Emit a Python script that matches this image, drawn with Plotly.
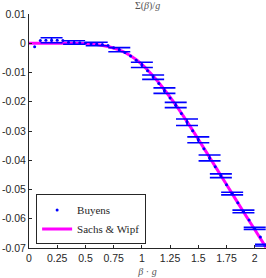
import plotly.graph_objects as go

# Sachs & Wipf curve
sw_x = [0.0, 0.1, 0.2, 0.3, 0.4, 0.5, 0.6, 0.7, 0.8, 0.9, 1.0, 1.1, 1.2, 1.3, 1.4,
        1.5, 1.6, 1.7, 1.8, 1.9, 2.0, 2.1]
sw_y = [0.0, 0.0, 0.0, 0.0, 0.0, -0.0001, -0.0004, -0.0011, -0.0023, -0.0043, -0.0072,
        -0.0112, -0.0159, -0.0211, -0.0268, -0.0328, -0.0390, -0.0452, -0.0514, -0.0576,
        -0.0637, -0.0698]

# Buyens points
by_x = [0.05, 0.10, 0.15, 0.20, 0.25, 0.30, 0.35, 0.40, 0.45, 0.50, 0.55, 0.60, 0.65,
        0.70, 0.75, 0.80, 0.85, 0.90, 0.95, 1.00, 1.05, 1.10, 1.15, 1.20, 1.25, 1.30,
        1.35, 1.40, 1.45, 1.50, 1.55, 1.60, 1.65, 1.70, 1.75, 1.80, 1.85, 1.90, 1.95,
        2.00, 2.05, 2.10]
by_y = [-0.0012, 0.0009, 0.0010, 0.0010, 0.0010, 0.0009, 0.0003, 0.0002, 0.0002, 0.0001,
        -0.0002, -0.0003, -0.0004, -0.0008, -0.0015, -0.0022, -0.0032, -0.0044, -0.0058,
        -0.0074, -0.0094, -0.0115, -0.0138, -0.0162, -0.0187, -0.0212, -0.0240, -0.0269,
        -0.0299, -0.0330, -0.0361, -0.0392, -0.0422, -0.0453, -0.0484, -0.0514, -0.0545,
        -0.0575, -0.0604, -0.0633, -0.0662, -0.0690]

# Buyens error bars
eb_x = [0.2, 0.4, 0.6, 0.8, 1.0, 1.1, 1.2, 1.3, 1.4, 1.5, 1.6, 1.7, 1.8, 1.9, 2.0, 2.1]
eb_y = [0.00104, 0.00026, -0.00026, -0.0022, -0.0074, -0.0116, -0.0162, -0.0211, -0.0270,
        -0.0330, -0.0392, -0.0453, -0.0514, -0.0575, -0.0633, -0.0690]
eb_err = [0.00085, 0.0006, 0.0006, 0.0007, 0.0009, 0.00075, 0.00095, 0.0009, 0.0011,
          0.001, 0.001, 0.00065, 0.00045, 0.00045, 0.00035, 0.0003]

y_ticks = [0.01, 0.0, -0.01, -0.02, -0.03, -0.04, -0.05, -0.06, -0.07]
y_ticktext = ["0.01", "0", "-0.01", "-0.02", "-0.03", "-0.04", "-0.05", "-0.06", "-0.07"]
x_ticks = [0, 0.25, 0.5, 0.75, 1, 1.25, 1.5, 1.75, 2]
x_ticktext = ["0", "0.25", "0.5", "0.75", "1", "1.25", "1.5", "1.75", "2"]

AX = "#262626"

fig = go.Figure()
fig.add_trace(go.Scatter(
    x=sw_x, y=sw_y, mode="lines", name="Sachs & Wipf",
    line=dict(color="#FF00FF", width=3, shape="spline"), legendrank=2))
fig.add_trace(go.Scatter(
    x=eb_x, y=eb_y, mode="markers", showlegend=False,
    marker=dict(color="#0000FF", size=1, opacity=0),
    error_y=dict(type="data", array=eb_err, color="#0000FF", thickness=1.6, width=11)))
fig.add_trace(go.Scatter(
    x=by_x, y=by_y, mode="markers", name="Buyens",
    marker=dict(color="#0000FF", size=3), legendrank=1))

fig.update_layout(
    width=266, height=278,
    margin=dict(l=29, r=0, t=14, b=30),
    paper_bgcolor="white", plot_bgcolor="white",
    font=dict(family="Liberation Sans, Arial, sans-serif", size=10.5, color=AX),
    title=dict(text="Σ(<i>β</i>)/<i>g</i>", x=0.5, xref="paper", y=0.982,
               yref="container", xanchor="center", yanchor="middle",
               font=dict(family="Liberation Serif, serif", size=10, color="#555555")),
    legend=dict(x=0.03, y=0.015, xanchor="left", yanchor="bottom",
                bgcolor="white", bordercolor=AX, borderwidth=1,
                font=dict(family="Liberation Serif, serif", size=11, color=AX),
                tracegroupgap=0, itemwidth=30),
    showlegend=True,
)
fig.update_xaxes(
    range=[0, 2.1], tickvals=x_ticks, ticktext=x_ticktext,
    showline=True, linecolor=AX, linewidth=1, mirror=False,
    ticks="inside", ticklen=3, tickcolor=AX, showgrid=False, zeroline=False,
    tickfont=dict(size=10.5, color=AX),
    title=dict(text="<i>β</i> · <i>g</i>", standoff=5,
               font=dict(family="Liberation Serif, serif", size=10, color="#555555")),
)
fig.update_yaxes(
    range=[-0.07, 0.01], tickvals=y_ticks, ticktext=y_ticktext,
    showline=True, linecolor=AX, linewidth=1, mirror=False,
    ticks="inside", ticklen=3, tickcolor=AX, showgrid=False, zeroline=False,
    tickfont=dict(size=10.5, color=AX),
)

fig.write_html("out.html", config={"displayModeBar": False},
               post_script="document.body.style.margin='0';")
